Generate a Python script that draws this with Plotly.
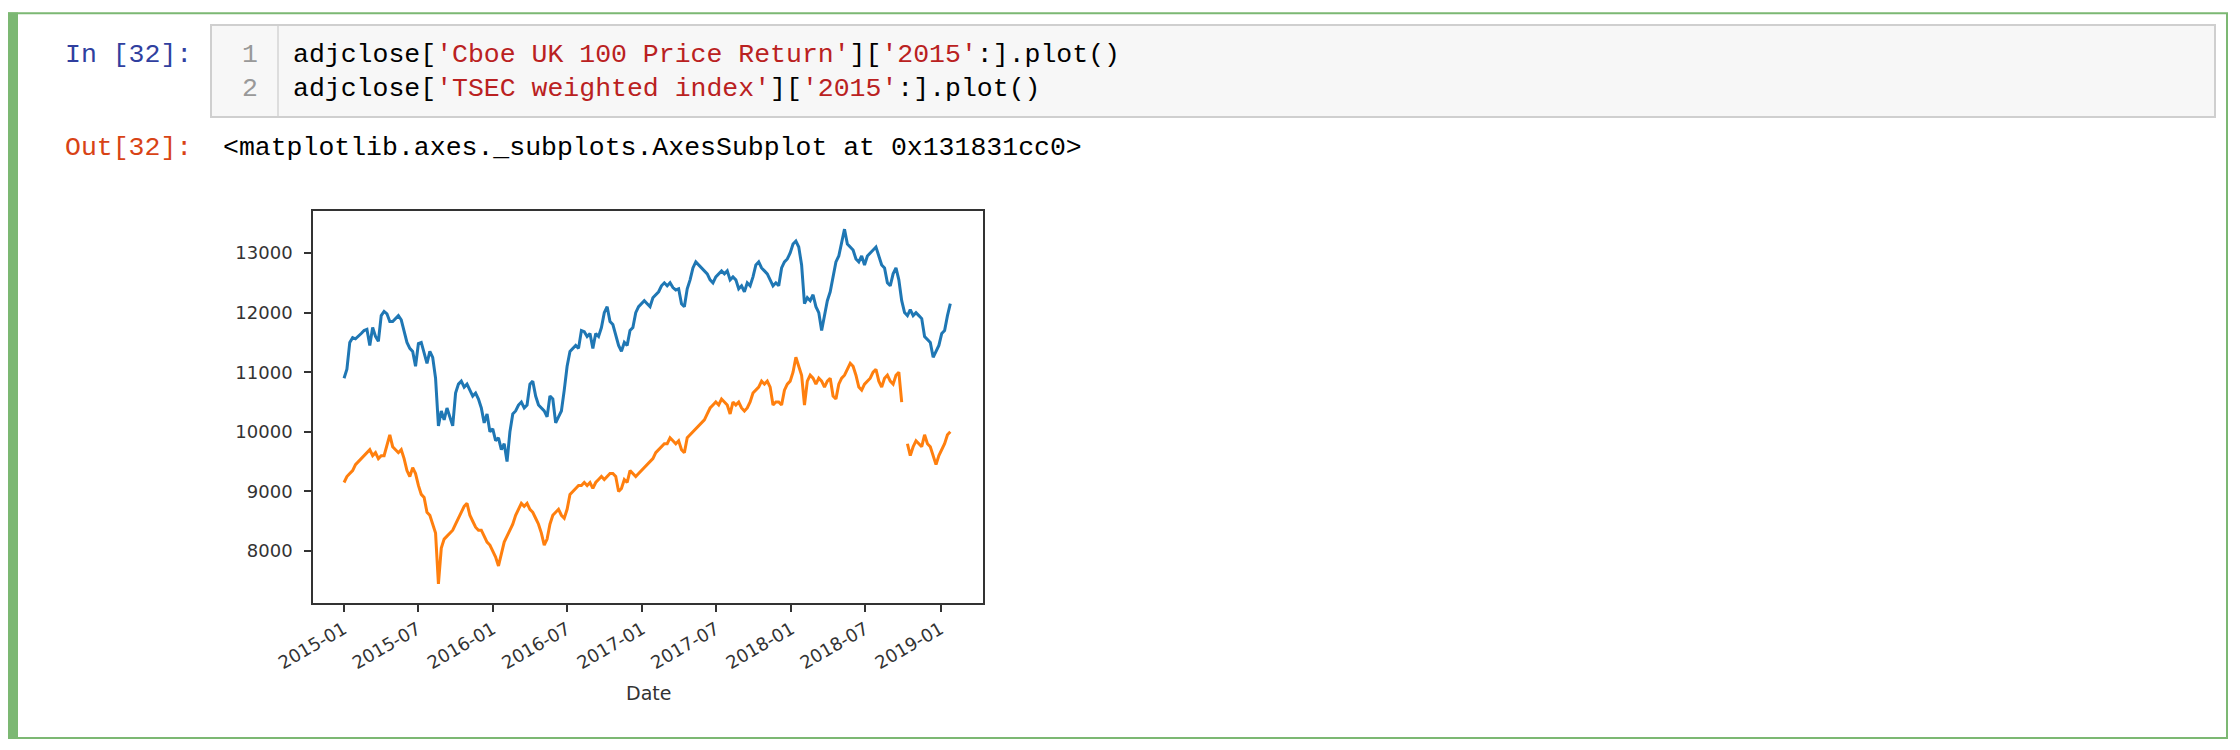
import pandas as pd
import plotly.graph_objects as go

# weekly closes (Fridays, 2015-01-02 .. 2019-01-25)
uk100 = [
    # 2015
    10900, 11050, 11500, 11580, 11560,
    11600, 11650, 11700, 11720,
    11450, 11750, 11600, 11520,
    11950, 12020, 11980, 11850,
    11850, 11900, 11950, 11880, 11700,
    11500, 11400, 11350, 11100,
    11480, 11500, 11300, 11150, 11350,
    11250, 10900, 10100, 10350,
    10200, 10400, 10250, 10100,
    10650, 10800, 10850, 10750, 10800,
    10700, 10600, 10650, 10550,
    10400, 10150, 10300, 10000,
    # 2016
    10050, 9850, 9900, 9700, 9800,
    9500, 10000, 10300, 10350,
    10450, 10500, 10400, 10450,
    10800, 10850, 10600, 10450, 10400,
    10350, 10250, 10600, 10550,
    10150, 10250, 10350, 10700,
    11100, 11350, 11400, 11450, 11400,
    11700, 11680, 11600, 11650,
    11400, 11650, 11600, 11750, 12000,
    12100, 11850, 11800, 11600,
    11450, 11350, 11500, 11450,
    11700, 11750, 12000, 12100, 12150,
    # 2017
    12200, 12150, 12100, 12250,
    12300, 12350, 12450, 12500,
    12450, 12500, 12420, 12380, 12400,
    12150, 12100, 12400, 12550,
    12750, 12850, 12800, 12750,
    12700, 12650, 12550, 12500, 12600,
    12650, 12700, 12650, 12700,
    12550, 12600, 12550, 12400,
    12450, 12350, 12500, 12450, 12600,
    12800, 12850, 12750, 12700,
    12650, 12550, 12450, 12500,
    12450, 12750, 12850, 12900, 13000,
    # 2018
    13150, 13200, 13100, 12800,
    12150, 12250, 12200, 12300,
    12100, 12000, 11700, 11950, 12200,
    12350, 12600, 12850, 12950,
    13200, 13400, 13150, 13100,
    13050, 12900, 12850, 12950, 12800,
    12950, 13000, 13050, 13100,
    12950, 12800, 12750, 12500, 12450,
    12650, 12750, 12550, 12200,
    12000, 11950, 12050, 11950,
    12000, 11950, 11900, 11600, 11550,
    11500, 11250, 11350, 11450,
    # 2019
    11650, 11700, 11950, 12150,
]

tsec = [
    # 2015
    9150, 9250, 9300, 9350, 9450,
    9500, 9550, 9600, 9650,
    9700, 9600, 9650, 9550,
    9600, 9600, 9800, 9950,
    9750, 9700, 9650, 9700, 9550,
    9350, 9250, 9400, 9300,
    9100, 8950, 8900, 8650, 8600,
    8450, 8300, 7450, 8050,
    8200, 8250, 8300, 8350,
    8450, 8550, 8650, 8750, 8800,
    8600, 8500, 8400, 8350,
    8350, 8250, 8150, 8100,
    # 2016
    8000, 7900, 7750, 7950, 8150,
    8250, 8350, 8450, 8600,
    8700, 8800, 8750, 8800,
    8700, 8650, 8550, 8450, 8300,
    8100, 8200, 8450, 8600,
    8650, 8700, 8600, 8550,
    8700, 8950, 9000, 9050, 9100,
    9100, 9150, 9100, 9150,
    9050, 9150, 9200, 9250, 9200,
    9250, 9300, 9300, 9250,
    9000, 9050, 9200, 9150,
    9350, 9300, 9250, 9300, 9350,
    # 2017
    9400, 9450, 9500, 9550,
    9650, 9700, 9750, 9800,
    9800, 9900, 9850, 9800, 9850,
    9700, 9650, 9900, 9950,
    10000, 10050, 10100, 10150,
    10200, 10300, 10400, 10450, 10500,
    10450, 10550, 10500, 10450,
    10300, 10500, 10450, 10500,
    10400, 10350, 10400, 10500, 10650,
    10700, 10750, 10850, 10800,
    10850, 10750, 10450, 10500,
    10500, 10450, 10700, 10800, 10850,
    # 2018
    11000, 11250, 11100, 10950,
    10450, 10850, 10950, 10900,
    10800, 10900, 10850, 10750, 10850,
    10900, 10600, 10550, 10800,
    10900, 10950, 11050, 11150,
    11100, 10950, 10750, 10700, 10800,
    10850, 10900, 11000, 11050,
    10850, 10750, 10900, 10950, 10850,
    10800, 10950, 11000, 10500,
    None, 9800, 9600, 9750,
    9850, 9800, 9750, 9950, 9800,
    9750, 9600, 9450, 9600,
    # 2019
    9700, 9800, 9950, 10000,
]

dates = pd.date_range("2015-01-02", periods=len(uk100), freq="W-FRI")

x_ticks = ["2015-01", "2015-07", "2016-01", "2016-07", "2017-01",
           "2017-07", "2018-01", "2018-07", "2019-01"]
y_ticks = [8000, 9000, 10000, 11000, 12000, 13000]

code_lines = [
    "adjclose[<span style='color:#ba2121'>'Cboe UK 100 Price Return'</span>]"
    "[<span style='color:#ba2121'>'2015'</span>:].plot()",
    "adjclose[<span style='color:#ba2121'>'TSEC weighted index'</span>]"
    "[<span style='color:#ba2121'>'2015'</span>:].plot()",
]
out_text = "&lt;matplotlib.axes._subplots.AxesSubplot at 0x131831cc0&gt;"

# page is 2240x750, axes box sits at these pixels
W, H = 2240, 750
L, R, T, B = 313, 983, 211, 603


def px(x):
    return (x - L) / (R - L)


def py(y):
    return (B - y) / (B - T)


mono = "Liberation Mono, DejaVu Sans Mono, monospace"
green = "#7cb873"

fig = go.Figure()
fig.add_trace(go.Scatter(x=dates, y=uk100, mode="lines",
                         line=dict(color="#1f77b4", width=3)))
fig.add_trace(go.Scatter(x=dates, y=tsec, mode="lines",
                         line=dict(color="#ff7f0e", width=3)))

axis_style = dict(showline=True, linecolor="#333", linewidth=1.6, mirror=True,
                  ticks="outside", ticklen=7, tickwidth=1.6, tickcolor="#333",
                  showgrid=False, zeroline=False,
                  tickfont=dict(family="DejaVu Sans", size=18, color="#333"))

fig.update_xaxes(type="date", range=["2014-10-18", "2019-04-15"],
                 tickvals=[t + "-01" for t in x_ticks], ticktext=x_ticks,
                 tickangle=-30, **axis_style)
fig.update_yaxes(range=[7128, 13705], tickvals=y_ticks,
                 ticktext=[str(v) for v in y_ticks], ticklabelstandoff=8,
                 **axis_style)

# notebook cell chrome
shapes = [
    dict(type="rect", x0=px(9), x1=px(2227), y0=py(13.3), y1=py(738),
         line=dict(color=green, width=2)),
    dict(type="rect", x0=px(8), x1=px(18), y0=py(12.5), y1=py(739),
         fillcolor=green, line=dict(width=0)),
    dict(type="rect", x0=px(211), x1=px(2215), y0=py(25), y1=py(117),
         fillcolor="#f7f7f7", line=dict(color="#cfcfcf", width=2)),
    dict(type="line", x0=px(278), x1=px(278), y0=py(26), y1=py(116),
         line=dict(color="#dddddd", width=2)),
]
for s in shapes:
    s.update(xref="paper", yref="paper", layer="below")

annotations = [
    dict(text="In [32]:", x=px(194), y=py(55), xanchor="right",
         font=dict(family=mono, size=26.5, color="#303f9f")),
    dict(text="1", x=px(260), y=py(55), xanchor="right",
         font=dict(family=mono, size=26.5, color="#999999")),
    dict(text="2", x=px(260), y=py(89), xanchor="right",
         font=dict(family=mono, size=26.5, color="#999999")),
    dict(text=code_lines[0], x=px(291), y=py(55), xanchor="left",
         font=dict(family=mono, size=26.5, color="#000000")),
    dict(text=code_lines[1], x=px(291), y=py(89), xanchor="left",
         font=dict(family=mono, size=26.5, color="#000000")),
    dict(text="Out[32]:", x=px(194), y=py(148), xanchor="right",
         font=dict(family=mono, size=26.5, color="#d84315")),
    dict(text=out_text, x=px(221), y=py(148), xanchor="left",
         font=dict(family=mono, size=26.5, color="#000000")),
    dict(text="Date", x=0.5, y=py(693), xanchor="center",
         font=dict(family="DejaVu Sans", size=19, color="#333")),
]
for a in annotations:
    a.update(xref="paper", yref="paper", showarrow=False, yanchor="middle")

fig.update_layout(width=W, height=H, autosize=False,
                  margin=dict(l=L, r=W - R, t=T, b=H - B, pad=0),
                  paper_bgcolor="white", plot_bgcolor="white",
                  showlegend=False, shapes=shapes, annotations=annotations)

fig.write_html("out.html", config={"displayModeBar": False},
               post_script="document.body.style.margin='0';"
                           "document.body.style.overflow='hidden';")
